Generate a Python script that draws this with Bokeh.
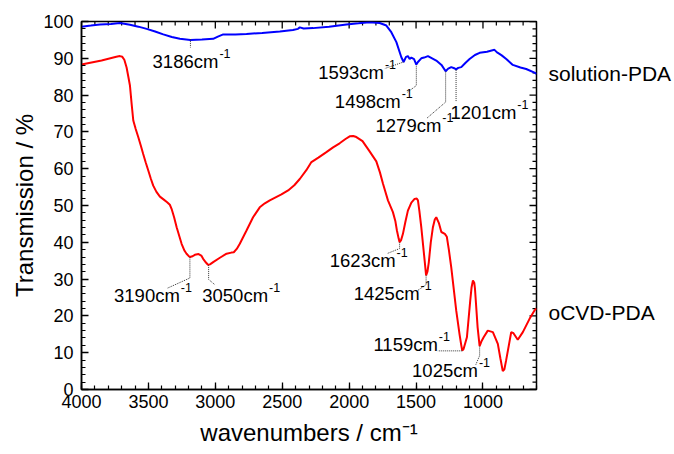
import math
from bokeh.plotting import figure
from bokeh.models import Range1d, LinearAxis, SingleIntervalTicker, FixedTicker, Label
from bokeh.embed import file_html
from bokeh.resources import INLINE

# ---------------- data ----------------
solution_x = [4000, 3930, 3862, 3780, 3713, 3638, 3575, 3513, 3450, 3389, 3325, 3265, 3186, 3100,
              3016, 2981, 2941, 2850, 2767, 2650, 2518, 2420, 2382, 2369, 2340, 2270, 2150, 2020,
              1930, 1847, 1772, 1722, 1685, 1647, 1610, 1593, 1575, 1561, 1548, 1535, 1515, 1498,
              1486, 1461, 1440, 1411, 1380, 1349, 1310, 1279, 1260, 1237, 1215, 1201, 1185, 1162,
              1130, 1100, 1060, 1025, 970, 914, 895, 877, 860, 826, 777, 720, 677, 615, 600]
solution_y = [98.6, 98.9, 99.2, 99.3, 99.6, 99.1, 98.6, 98.0, 97.3, 96.5, 95.8, 95.3, 95.0, 95.1,
              95.3, 95.9, 96.5, 96.5, 96.6, 96.9, 97.3, 97.7, 98.0, 98.4, 98.1, 98.2, 98.6, 99.2,
              99.5, 99.8, 99.6, 98.9, 97.1, 94.4, 90.3, 89.0, 90.4, 90.6, 89.8, 90.2, 89.8, 88.3,
              89.0, 90.0, 90.2, 90.6, 90.0, 89.4, 88.2, 86.5, 87.2, 87.6, 87.3, 87.0, 87.4, 87.6,
              88.8, 89.8, 90.9, 91.5, 91.8, 92.3, 91.6, 91.2, 90.8, 89.8, 88.2, 87.5, 87.1, 86.1, 85.8]

ocvd_x = [4000, 3850, 3740, 3713, 3695, 3680, 3663, 3650, 3638, 3625, 3613, 3595, 3576, 3557,
          3539, 3520, 3501, 3483, 3464, 3440, 3414, 3385, 3360, 3340, 3327, 3308,
          3289, 3252, 3230, 3215, 3200, 3190, 3170, 3153, 3125, 3105, 3091, 3070, 3055, 3040,
          3016, 2966, 2916, 2880, 2862, 2840, 2817, 2767,
          2718, 2668, 2630, 2593, 2506, 2456, 2410, 2369, 2320, 2282, 2230, 2170, 2120, 2071,
          2030, 1996, 1970, 1946, 1900, 1847, 1797,
          1770, 1747, 1710, 1673, 1655, 1643, 1630, 1623, 1612, 1598, 1580, 1561, 1535, 1511,
          1495, 1486, 1475, 1461, 1436, 1425, 1415, 1405, 1390, 1374,
          1360, 1349, 1330, 1311, 1285, 1270, 1255, 1237, 1200, 1175, 1162, 1155, 1145, 1120,
          1095, 1085, 1075, 1065, 1060, 1040, 1025,
          1010, 995, 964, 926, 889, 870, 852, 840, 827, 789, 772, 740, 702, 652, 615, 600]
ocvd_y = [88.3, 89.4, 90.4, 90.6, 90.4, 89.6, 87.5, 85.0, 82.6, 77.5, 73.1, 70.8, 68.6, 66.3,
          64.0, 61.7, 59.5, 57.4, 55.4, 53.7, 52.4, 51.6, 50.9, 50.2, 49.1, 46.8,
          44.1, 39.6, 37.7, 36.9, 36.3, 36.0, 36.2, 36.6, 36.8, 36.4, 35.5, 34.5, 33.9, 34.0,
          34.6, 35.8, 36.9, 37.2, 37.3, 38.2, 39.6, 43.2,
          46.8, 49.5, 50.6, 51.4, 53.0, 54.1, 55.5, 57.2, 59.6, 61.8, 63.0, 64.5, 65.8, 66.9,
          68.0, 68.8, 68.9, 68.6, 67.5, 64.7, 62.0,
          59.0, 55.9, 51.4, 48.2, 45.8, 43.2, 41.0, 40.0, 40.6, 42.3, 45.5, 48.6, 50.8, 51.8,
          51.9, 51.4, 48.5, 44.1, 35.1, 31.0, 32.0, 34.5, 40.0, 44.1,
          46.2, 46.8, 45.3, 42.8, 42.3, 41.5, 38.0, 33.2, 21.5, 15.0, 12.0, 10.6, 11.0, 14.2,
          24.2, 27.8, 29.6, 29.0, 27.5, 16.9, 11.8,
          13.2, 14.2, 16.0, 15.6, 12.4, 8.5, 5.0, 5.5, 7.9, 15.6, 15.3, 13.5, 15.6, 19.2, 21.5, 22.0]

x_ticks = [4000, 3500, 3000, 2500, 2000, 1500, 1000]
y_ticks = [0, 10, 20, 30, 40, 50, 60, 70, 80, 90, 100]
x_minor_step = 100
y_minor_step = 2

curve_names = ["solution-PDA", "oCVD-PDA"]
curve_name_y = [86, 21]

# peak annotations: label, leader-line path (x list, y list), label anchor (end of "cm", middle)
peaks = [
    ("3186", [3186, 3186], [95.2, 92.9], 2977, 89.1),
    ("1593", [1593, 1735], [89.0, 87.2], 1740, 86.1),
    ("1498", [1498, 1498, 1563], [88.0, 82.6, 80.8], 1615, 78.3),
    ("1279", [1279, 1279, 1423], [86.4, 78.1, 73.6], 1311, 71.7),
    ("1201", [1201, 1201], [86.8, 78.1], 751, 75.4),
    ("3190", [3190, 3190, 3360], [35.9, 30.3, 27.5], 3265, 25.5),
    ("3050", [3050, 3050, 3004], [33.8, 29.9, 28.5], 2606, 25.5),
    ("1623", [1623, 1623, 1712], [40.0, 38.3, 37.0], 1653, 35.1),
    ("1425", [1425, 1425, 1488], [31.0, 28.5, 26.9], 1474, 26.1),
    ("1159", [1155, 1337], [10.5, 10.5], 1337, 12.2),
    ("1025", [1025, 1025, 1055], [11.7, 9.2, 6.6], 1038, 5.2),
]

FONT = "Liberation Sans"
X0, X1 = 4000, 600
Y0, Y1 = 0, 100

p = figure(width=674, height=454, x_range=Range1d(X0, X1), y_range=Range1d(Y0, Y1),
           output_backend="svg", toolbar_location=None,
           min_border_left=81, min_border_right=137, min_border_top=21, min_border_bottom=65)
p.xgrid.visible = False
p.ygrid.visible = False
p.outline_line_color = "black"
p.outline_line_width = 1.5
p.background_fill_color = "white"
p.border_fill_color = "white"

xt = SingleIntervalTicker(interval=500, num_minor_ticks=5)
yt = SingleIntervalTicker(interval=10, num_minor_ticks=5)


def style_axis(ax):
    ax.axis_line_color = "black"
    ax.axis_line_width = 1.5
    ax.major_tick_in = 7
    ax.major_tick_out = 0
    ax.minor_tick_in = 4
    ax.minor_tick_out = 0
    ax.major_tick_line_width = 1.3
    ax.minor_tick_line_width = 1.2
    ax.major_tick_line_color = "black"
    ax.minor_tick_line_color = "black"
    ax.major_label_text_font = FONT
    ax.major_label_text_color = "black"
    ax.major_label_text_font_size = "18px"
    ax.axis_label_text_font = FONT
    ax.axis_label_text_font_size = "24px"
    ax.axis_label_text_font_style = "normal"
    ax.axis_label_text_color = "black"


xa = p.below[0]
ya = p.left[0]
xa.ticker = xt
ya.ticker = yt
style_axis(xa)
style_axis(ya)
xa.axis_label = "wavenumbers / cm\u207b\u00b9"
ya.axis_label = "Transmission / %"
xa.major_label_standoff = 5
xa.axis_label_standoff = 8
ya.major_label_standoff = 8
ya.axis_label_standoff = 2

# curve names as labels of an extra right-hand axis
name_axis = LinearAxis(ticker=FixedTicker(ticks=curve_name_y),
                       major_label_overrides=dict(zip(curve_name_y, curve_names)))
name_axis.axis_line_color = None
name_axis.major_tick_line_color = None
name_axis.minor_tick_line_color = None
name_axis.major_tick_out = 0
name_axis.major_tick_in = 0
name_axis.major_label_standoff = 12
name_axis.major_label_text_font = FONT
name_axis.major_label_text_font_size = "21px"
name_axis.major_label_text_color = "black"
p.add_layout(name_axis, "right")

# mirrored inward ticks on the top and right edges (markers clipped at the frame edge)
x_minor = [v for v in range(X0, X1 - 1, -x_minor_step) if v not in x_ticks]
y_minor = [v for v in range(Y0, Y1 + 1, y_minor_step) if v not in y_ticks]
p.scatter(x_ticks, [Y1] * len(x_ticks), marker="dash", size=14, angle=math.pi / 2,
          line_color="black", line_width=1.3)
p.scatter(x_minor, [Y1] * len(x_minor), marker="dash", size=8, angle=math.pi / 2,
          line_color="black", line_width=1.2)
p.scatter([X1] * len(y_ticks), y_ticks, marker="dash", size=14,
          line_color="black", line_width=1.3)
p.scatter([X1] * len(y_minor), y_minor, marker="dash", size=8,
          line_color="black", line_width=1.2)

p.line(solution_x, solution_y, line_color="#0000ff", line_width=2)
p.line(ocvd_x, ocvd_y, line_color="#ff0000", line_width=2)

for name, lx, ly, ax_, ay_ in peaks:
    p.line(lx, ly, line_color="#333333", line_width=1, line_dash="1 1")
    p.add_layout(Label(x=ax_, y=ay_, text=name + "cm", text_align="right", text_baseline="middle",
                       text_font=FONT, text_font_size="18.5px", text_color="black"))
    p.add_layout(Label(x=ax_, y=ay_, x_offset=1, y_offset=8, text="-1", text_align="left",
                       text_baseline="middle", text_font=FONT, text_font_size="12.5px",
                       text_color="black"))

open("out.html", "w").write(file_html(p, INLINE))
